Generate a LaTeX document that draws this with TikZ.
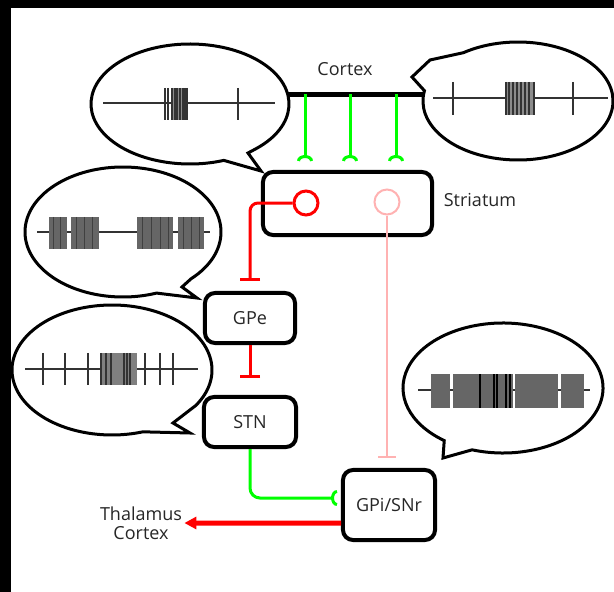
\documentclass[tikz,border=0pt]{standalone}
\usepackage{fontspec}
\setmainfont{Open Sans}
\usepackage{xcolor}
\usepackage{tikz}
\usetikzlibrary{arrows.meta,calc}

\begin{document}
\begin{tikzpicture}[scale=0.1757]
\tikzstyle{every node}+=[inner sep=0pt, font=\fontsize{9}{9.5}\selectfont, text=black!85]
\tikzstyle{nucleus}=[draw=black, line width=2pt, rounded corners=5pt]
\tikzstyle{bubble}=[black, line width=1.5pt]
\tikzstyle{train}=[black!80, line width=0.6pt]
\tikzstyle{burst}=[black!45]
\tikzstyle{exc}=[green, line width=1.5pt, -{Arc Barb[reversed,length=3pt,width=8pt]}]
\tikzstyle{inh}=[red, line width=1.5pt, -{Bar[width=10pt]}]
\useasboundingbox (0,0) rectangle (61.4,-59.2);
\fill [black] (0,0) rectangle (61.4,-0.8);
\fill [black] (0,0) rectangle (1.1,-59.2);
\draw [bubble] (19.0,-10.4) ++(-48:9.9 and 6.0) arc [start angle=-48, end angle=290, x radius=9.9, y radius=6.0] -- (26.1,-17.1) -- (24.8,-15.3) -- cycle;
\draw [train] (10.3,-10.3) -- (27.5,-10.3);
\fill [burst] (17.1,-8.8) rectangle (18.7,-12.0);
\foreach \x in {16.5,16.8,17.2,17.5,17.7,18.0,18.3,18.5,18.7,23.8}
  \draw [train] (\x,-8.8) -- (\x,-12.0);
\draw [bubble] (51.8,-10.1) ++(170:9.5 and 5.9) arc [start angle=170, end angle=485, x radius=9.5, y radius=5.9] -- (43.0,-6.0) -- (41.2,-7.7) -- cycle;
\draw [train] (43.3,-9.8) -- (60.8,-9.8);
\fill [burst] (50.6,-8.2) rectangle (53.4,-11.5);
\foreach \x in {45.3,50.6,50.9,51.3,51.7,52.1,52.5,52.9,53.4,57.3}
  \draw [train] (\x,-8.2) -- (\x,-11.5);
\draw [bubble] (12.3,-23.2) ++(-46:9.8 and 6.5) arc [start angle=-46, end angle=290, x radius=9.8, y radius=6.5] -- (19.7,-29.8) -- (18.2,-28.7) -- cycle;
\draw [train] (3.7,-23.2) -- (21.0,-23.2);
\foreach \a/\b in {4.9/6.7,7.1/9.9,13.7/17.3,17.8/20.4}
  \fill [black!60] (\a,-21.7) rectangle (\b,-24.9);
\foreach \x in {5.3,6.0,7.6,8.4,9.2,14.2,15.1,16.0,16.8,18.3,19.1,19.9}
  \draw [black!75, line width=0.5pt] (\x,-21.7) -- (\x,-24.9);
\draw [bubble] (11.2,-37.0) ++(-33:10.0 and 6.5) arc [start angle=-33, end angle=288, x radius=10.0, y radius=6.5] -- (19.0,-43.3) -- (17.3,-42.3) -- cycle;
\draw [train] (2.5,-36.9) -- (19.8,-36.9);
\fill [black!50] (10.0,-35.3) rectangle (13.7,-38.5);
\foreach \x in {4.3,6.5,8.8,10.1,10.6,11.1,12.4,12.7,13.0,14.5,16.0,17.3}
  \draw [train] (\x,-35.3) -- (\x,-38.5);
\draw [bubble] (50.3,-38.8) ++(252:10.0 and 6.5) arc [start angle=252, end angle=594, x radius=10.0, y radius=6.5] -- (44.3,-45.8) -- cycle;
\draw [train] (41.8,-39.0) -- (59.0,-39.0);
\foreach \a/\b in {43.1/45.0,45.3/47.8,47.8/51.3,51.5/55.8,56.1/58.4}
  \fill [black!60] (\a,-37.4) rectangle (\b,-40.8);
\foreach \x in {48.0,49.4,49.7,50.6,51.0}
  \draw [black, line width=1pt] (\x,-37.4) -- (\x,-40.8);
\node (ctx) at (34.5,-6.9) {Cortex};
\coordinate (ctxa) at (28.8,-9.4);
\coordinate (ctxb) at (42.4,-9.4);
\coordinate (c1) at (30.5,-9.4);
\coordinate (c2) at (35.0,-9.4);
\coordinate (c3) at (39.6,-9.4);
\draw [black, line width=2.5pt] (ctxa) -- (ctxb);
\node [nucleus, minimum width=84.5pt, minimum height=31.5pt] (str) at (34.75,-20.35) {};
\node (strlbl) at (48.0,-20.0) {Striatum};
\node [draw=red, circle, line width=1.5pt, minimum size=12pt] (msnr) at (30.6,-20.3) {};
\node [draw=red!30, circle, line width=1pt, minimum size=12.5pt] (msnp) at (38.7,-20.2) {};
\node [nucleus, minimum width=45pt, minimum height=25pt] (gpe) at (25.0,-31.8) {GPe};
\node [nucleus, minimum width=46pt, minimum height=25pt] (stn) at (25.0,-42.2) {STN};
\node [nucleus, minimum width=46pt, minimum height=35pt] (gpi) at (38.9,-50.5) {GPi/SNr};
\node [align=center] (thal) at (14.1,-52.3) {Thalamus\\Cortex};
\foreach \c in {c1,c2,c3}
  \draw [exc, shorten >=4.5pt] (\c) -- (\c |- str.north);
\draw [inh, rounded corners=4pt, shorten >=5pt] (msnr.west) -| (gpe.north);
\draw [inh, shorten >=8.5pt] (gpe.south) -- (stn.north);
\draw [red!30, line width=1pt, -{Bar[width=9pt]}, shorten >=5pt] (msnp.south) -- (msnp.south |- gpi.north);
\draw [exc, rounded corners=5pt, shorten >=2pt] (stn.south) |- ($(gpi.west)+(0,0.7)$);
\draw [red, line width=2.5pt, -{Triangle[length=6pt,width=6pt]}, shorten >=1pt] ($(gpi.west)+(0,-1.8)$) -- (thal.east |- 0,-52.3);
\end{tikzpicture}
\end{document}
